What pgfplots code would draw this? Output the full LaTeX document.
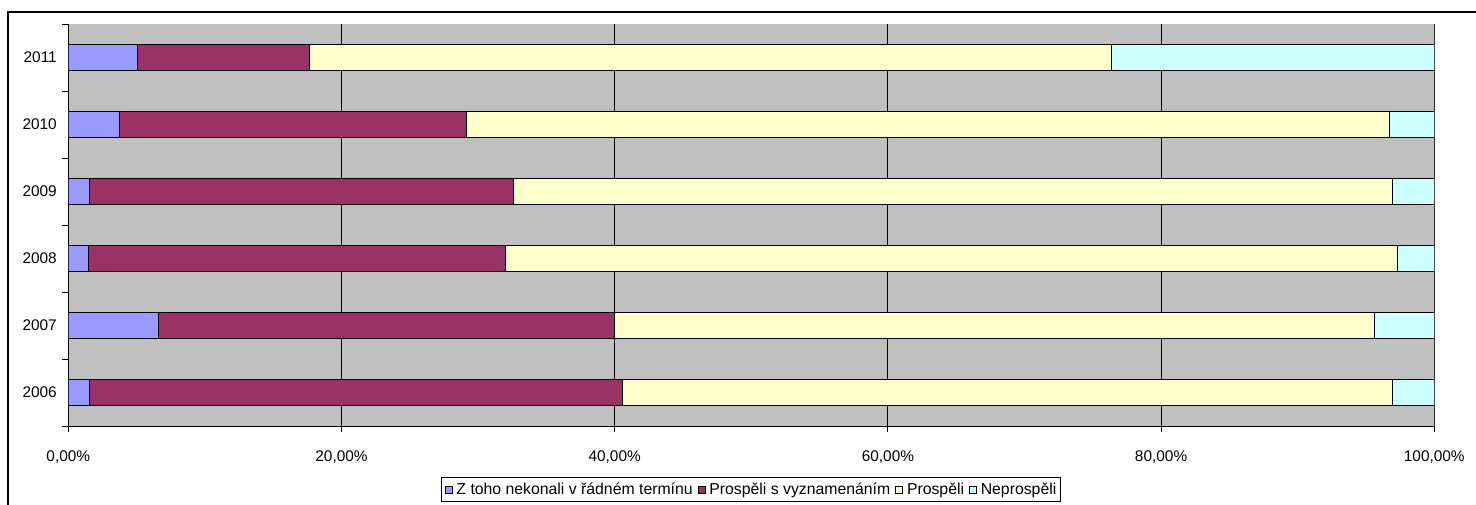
\documentclass[border=0pt]{standalone}
\usepackage{pgfplots}
\pgfplotsset{compat=1.18}
\usepackage{fontspec}
\setmainfont{Liberation Sans}
\definecolor{cblue}{HTML}{9999FF}
\definecolor{cpurple}{HTML}{993366}
\definecolor{cyellow}{HTML}{FFFFCC}
\definecolor{ccyan}{HTML}{CCFFFF}
\definecolor{cbg}{HTML}{C0C0C0}
\begin{document}
\begin{tikzpicture}
\useasboundingbox (0,0) rectangle (1476bp,505bp);
\draw[black, line width=1.3bp] (8bp,-10bp) -- (8bp,493bp) -- (1476bp,493bp);
\begin{axis}[
 at={(68.3bp,79bp)}, anchor=south west,
 scale only axis, width=1366bp, height=402bp,
 xbar stacked, bar width=0.4,
 xmin=0, xmax=100, ymin=-0.5, ymax=5.5,
 axis background/.style={fill=cbg},
 axis x line=bottom, axis y line=left,
 axis line style={-, black, line width=1bp},
 xtick={0,20,...,100},
 xticklabels={{0,00\%},{20,00\%},{40,00\%},{60,00\%},{80,00\%},{100,00\%}},
 xmajorgrids, major grid style={black, line width=1bp},
 tick align=outside, major tick length=6bp,
 tick style={black, line width=1bp},
 ytick={-0.5,0.5,1.5,2.5,3.5,4.5,5.5}, yticklabels={},
 extra y ticks={0,1,2,3,4,5},
 extra y tick labels={2006,2007,2008,2009,2010,2011},
 extra y tick style={major tick length=0pt},
 every tick label/.append style={font=\fontsize{15.4bp}{18bp}\selectfont},
 xticklabel style={yshift=-15bp},
 yticklabel style={xshift=-8bp},
 legend columns=-1,
 legend style={at={(0.5,-0.1269)}, anchor=north, draw=black, line width=1bp,
   font=\fontsize{15.8bp}{18bp}\selectfont, inner xsep=3bp, inner ysep=4bp,
   nodes={inner sep=1.5bp},
   /tikz/every odd column/.append style={column sep=2.5bp},
   /tikz/every even column/.append style={column sep=3.5bp}},
 legend image code/.code={\draw[#1, draw=black, line width=0.7bp] (0bp,-3.5bp) rectangle (7bp,3.5bp);},
 every axis plot/.append style={draw=black, line width=0.9bp},
]
\addplot[fill=cblue] coordinates {(1.54,0) (6.63,1) (1.46,2) (1.54,3) (3.71,4) (5.03,5)};
\addplot[fill=cpurple] coordinates {(39.06,0) (33.37,1) (30.54,2) (31.06,3) (25.43,4) (12.63,5)};
\addplot[fill=cyellow] coordinates {(56.3,0) (55.6,1) (65.3,2) (64.3,3) (67.56,4) (58.74,5)};
\addplot[fill=ccyan] coordinates {(3.1,0) (4.4,1) (2.7,2) (3.1,3) (3.3,4) (23.6,5)};
\legend{Z toho nekonali v řádném termínu, Prospěli s vyznamenáním, Prospěli, Neprospěli}
\draw[color=gray, line width=1bp] (rel axis cs:1,0) -- (rel axis cs:1,1);
\end{axis}
\end{tikzpicture}
\end{document}
